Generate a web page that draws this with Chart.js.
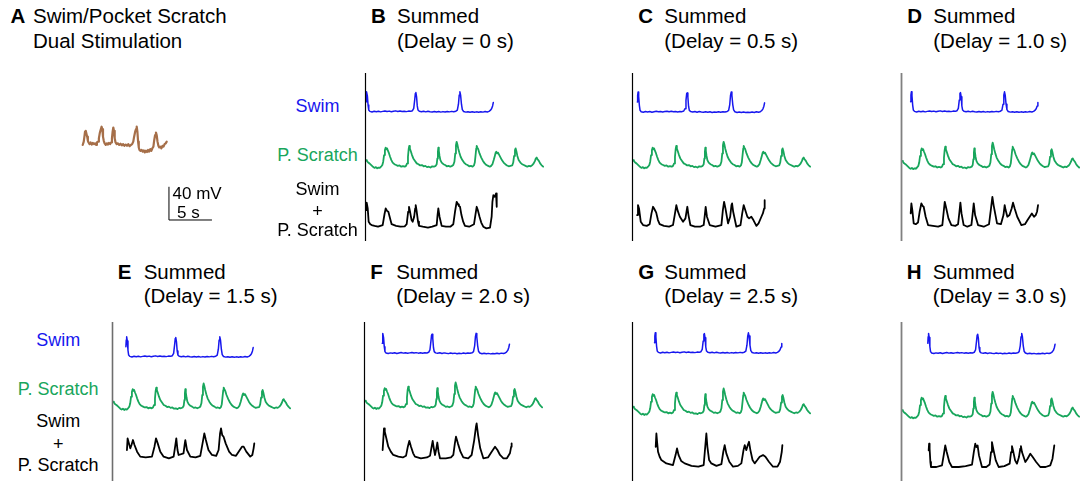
<!DOCTYPE html>
<html>
<head>
<meta charset="utf-8">
<title>Swim / Pocket Scratch summation</title>
<script src="https://cdn.jsdelivr.net/npm/chart.js@4/dist/chart.umd.min.js"></script>
<style>
  html, body { margin: 0; padding: 0; }
  body { width: 1081px; height: 482px; background: #fff; position: relative; overflow: hidden;
         font-family: "Liberation Sans", Arial, Helvetica, sans-serif; color: #000; }
  .t { position: absolute; white-space: nowrap; line-height: 1; }
  .c { transform: translateX(-50%); }
  canvas { position: absolute; }
</style>
</head>
<body>
<script>
// ---------- data: time in s, membrane potential in mV relative to rest ----------

// dual stimulation recording (panel A)
const dualTrace = [[0,-2],[0.12,2],[0.2,8],[0.27,14],[0.33,13],[0.38,15],[0.45,11],[0.52,8],[0.6,3],[0.68,1],[0.8,-1],[0.92,1],[1.05,-1.5],[1.18,0.5],[1.3,-1],[1.42,0],[1.55,-2],[1.65,1],[1.78,2],[1.88,6],[1.98,12],[2.08,16],[2.2,20],[2.28,17],[2.36,8],[2.45,3],[2.55,0],[2.68,-2],[2.8,0],[2.92,-1.5],[3.05,0.5],[3.18,-1],[3.3,1],[3.4,6],[3.48,14],[3.56,19],[3.64,15],[3.72,6],[3.82,1],[3.95,-1],[4.1,0],[4.25,-2],[4.4,-0.5],[4.55,-2.5],[4.7,-1],[4.85,-3],[5.0,-1.5],[5.15,-3],[5.3,-1],[5.45,-3.5],[5.6,-2],[5.75,-1],[5.88,2],[5.98,8],[6.1,14],[6.2,17],[6.28,20],[6.36,14],[6.44,2],[6.52,-5],[6.6,-8],[6.72,-9],[6.85,-8],[6.98,-10],[7.1,-8.5],[7.22,-11],[7.35,-9],[7.48,-10.5],[7.6,-8],[7.72,-10],[7.85,-7],[7.98,-9],[8.1,-6],[8.22,-4],[8.32,4],[8.42,10],[8.52,13],[8.6,10],[8.7,2],[8.8,-3],[8.9,-5],[9.02,-4],[9.15,-6],[9.28,-3],[9.4,-4],[9.52,-1],[9.65,0],[9.77,2]];

// swim response alone, time from swim onset
const swimTrace = [[0,12],[0.04,20],[0.09,24],[0.16,19],[0.24,8],[0.32,2],[0.45,0.4],[0.7,-0.3],[0.95,0.5],[1.2,0],[1.45,0.6],[1.7,-0.2],[1.95,0.4],[2.2,0.9],[2.45,0.2],[2.7,0.7],[2.95,0],[3.2,0.5],[3.45,1],[3.7,0.3],[3.95,0.8],[4.2,0.2],[4.45,0.6],[4.7,0.1],[4.95,0.7],[5.2,0.4],[5.4,1.2],[5.55,4],[5.66,14],[5.74,22],[5.8,23],[5.88,18],[5.96,7],[6.05,2],[6.2,0.5],[6.45,0],[6.7,0.6],[6.95,-0.2],[7.2,0.5],[7.45,0],[7.7,-0.4],[7.95,0.3],[8.2,-0.3],[8.45,0.2],[8.7,-0.5],[8.95,0.1],[9.2,-0.4],[9.45,0.3],[9.7,-0.2],[9.95,0.4],[10.2,0],[10.45,0.6],[10.62,2],[10.75,9],[10.84,20],[10.92,24],[11.0,20],[11.1,9],[11.2,2.5],[11.35,0.3],[11.6,-0.5],[11.85,0],[12.1,-0.6],[12.35,-0.1],[12.6,-0.7],[12.85,-0.2],[13.1,-0.6],[13.35,0],[13.6,-0.5],[13.85,0.2],[14.1,-0.3],[14.3,0.4],[14.45,1.5],[14.6,3.5],[14.72,7],[14.8,11]];

// pocket scratch response alone, time from scratch onset
const scratchTrace = [[0,8],[0.1,7],[0.25,5],[0.4,4],[0.55,2.5],[0.7,1],[0.85,-0.5],[1.0,-1.5],[1.15,-0.5],[1.3,-2],[1.45,-1],[1.6,-1.5],[1.75,0],[1.9,2],[2.0,6],[2.1,14],[2.2,20],[2.29,23],[2.38,21],[2.46,22],[2.56,19],[2.68,16],[2.8,12],[2.95,8],[3.1,5],[3.3,3],[3.5,2],[3.7,1],[3.9,1.5],[4.1,0],[4.3,0.8],[4.5,0],[4.65,1],[4.78,4],[4.88,12],[4.96,21],[5.03,25],[5.1,22],[5.2,19],[5.35,14],[5.5,10],[5.7,7],[5.9,4],[6.1,3],[6.3,1.5],[6.5,2],[6.7,0.5],[6.9,1],[7.1,-0.5],[7.3,0],[7.5,-1],[7.7,0.5],[7.9,0],[8.1,1],[8.22,3],[8.3,10],[8.36,18],[8.41,23],[8.47,19],[8.55,13],[8.65,8],[8.8,5],[9.0,3],[9.2,2],[9.4,0.5],[9.6,1],[9.8,0],[10.0,1],[10.15,2],[10.28,6],[10.38,16],[10.46,26],[10.54,30],[10.62,27],[10.72,22],[10.85,17],[11.0,12],[11.2,8],[11.4,5],[11.6,3],[11.8,2],[12.0,0.5],[12.2,1],[12.4,0],[12.55,1.5],[12.65,5],[12.74,14],[12.82,22],[12.87,25],[12.95,23],[13.05,21],[13.2,16],[13.4,11],[13.6,7],[13.8,4],[14.0,2],[14.2,1],[14.4,0],[14.55,1],[14.7,3],[14.85,8],[14.98,13],[15.08,17],[15.15,18],[15.25,16],[15.35,17],[15.5,14],[15.65,11],[15.8,8],[16.0,5],[16.2,3],[16.4,1.5],[16.6,0.5],[16.8,1],[17.0,1.5],[17.12,5],[17.22,13],[17.32,20],[17.4,22],[17.48,19],[17.6,13],[17.75,8],[17.95,5],[18.15,3],[18.35,2],[18.55,1],[18.75,0],[18.95,1],[19.15,0.5],[19.35,2],[19.5,4],[19.65,7],[19.75,10],[19.85,11],[19.95,9],[20.1,7],[20.25,4],[20.4,2],[20.6,0]];

// summed responses, time from scratch onset
const sumB = [[0,20],[0.08,29],[0.2,22],[0.31,6],[0.5,3],[0.66,2],[1.0,1],[1.4,0],[1.94,2],[2.15,15],[2.29,22],[2.45,19],[2.6,18],[2.8,10],[2.98,3],[3.5,1],[4.0,0],[4.5,0.5],[4.73,3],[4.9,18],[5.0,24],[5.12,18],[5.3,8],[5.43,6],[5.6,12],[5.72,22],[5.78,26],[5.9,18],[6.05,6],[6.16,1],[6.6,0],[7.2,-1],[7.7,0],[8.22,2],[8.32,14],[8.41,22],[8.55,12],[8.8,1],[9.3,0],[9.8,0],[10.15,3],[10.35,18],[10.54,30],[10.7,27],[10.8,25],[10.93,24],[11.1,14],[11.3,6],[11.51,1],[12.0,0],[12.56,3],[12.75,16],[12.87,24],[13.0,20],[13.2,12],[13.4,5],[13.64,0],[14.0,-2],[14.42,-1],[14.61,12],[14.7,30],[14.81,38],[14.95,36],[15.12,40],[15.2,24]];
const sumC = [[0.47,14],[0.58,26],[0.7,22],[0.9,6],[1.17,2],[1.6,1],[1.94,3],[2.15,16],[2.33,24],[2.5,21],[2.7,17],[2.9,8],[3.1,3],[3.6,1],[4.2,0],[4.65,2],[4.85,14],[5.04,26],[5.2,19],[5.45,12],[5.82,6],[6.1,10],[6.25,20],[6.32,24],[6.45,14],[6.67,2],[7.2,0],[7.8,0],[8.22,2],[8.35,14],[8.45,24],[8.6,12],[8.92,2],[9.6,0],[10.28,2],[10.45,20],[10.59,30],[10.75,22],[11.05,4],[11.3,12],[11.45,26],[11.52,28],[11.65,18],[12.02,0],[12.5,2],[12.7,16],[12.87,26],[13.05,20],[13.3,12],[13.5,10],[13.76,12],[14.0,8],[14.35,1],[14.6,4],[14.93,12],[15.1,16],[15.25,22],[15.31,32]];
const sumD = [[1.01,16],[1.09,28],[1.2,20],[1.36,4],[1.6,3],[1.86,5],[2.05,18],[2.25,28],[2.4,25],[2.52,24],[2.75,12],[3.03,2],[3.6,1],[4.2,0],[4.69,2],[4.85,18],[4.97,30],[5.15,22],[5.4,10],[5.74,2],[6.2,1],[6.52,3],[6.68,18],[6.79,29],[6.92,16],[7.17,2],[7.6,0],[8.07,2],[8.22,16],[8.34,28],[8.5,14],[8.84,2],[9.5,0],[10.12,3],[10.35,22],[10.51,36],[10.65,26],[11.05,4],[11.5,3],[11.8,14],[11.94,26],[12.05,20],[12.25,12],[12.5,14],[12.75,22],[12.91,29],[13.1,22],[13.4,12],[13.88,2],[14.3,3],[14.6,8],[14.85,12],[15.1,16],[15.35,12],[15.55,14],[15.7,18],[15.82,26]];
const sumE = [[1.62,10],[1.7,24],[1.8,20],[2.01,12],[2.15,16],[2.32,22],[2.5,16],[2.8,8],[3.17,2],[3.8,1],[4.53,2],[4.82,14],[5.0,24],[5.2,18],[5.5,8],[5.89,2],[6.5,0],[7.05,2],[7.25,16],[7.36,24],[7.5,10],[7.63,4],[8.2,6],[8.35,18],[8.41,22],[8.6,10],[8.99,2],[9.6,1],[10.15,3],[10.45,20],[10.62,30],[10.8,22],[11.1,10],[11.51,4],[12.0,3],[12.28,10],[12.45,30],[12.56,36],[12.7,28],[12.86,26],[13.1,18],[13.5,8],[13.84,4],[14.3,3],[14.61,8],[15.0,14],[15.19,14],[15.5,8],[15.96,2],[16.2,4],[16.35,12],[16.43,18]];
const sumF = [[2.05,10],[2.21,36],[2.3,32],[2.44,26],[2.71,14],[3.0,8],[3.29,4],[3.88,2],[4.4,1],[4.77,3],[4.98,14],[5.15,21],[5.35,14],[5.6,6],[5.81,2],[6.5,0],[7.2,1],[7.56,3],[7.75,14],[7.87,21],[8.0,12],[8.14,4],[8.3,12],[8.41,19],[8.55,8],[8.72,0],[9.4,0],[10.0,1],[10.27,4],[10.45,18],[10.58,26],[10.8,18],[11.1,8],[11.43,1],[12.0,0],[12.4,4],[12.7,22],[12.9,38],[12.98,42],[13.15,28],[13.4,12],[13.76,0],[14.3,1],[14.73,8],[15.12,14],[15.4,10],[15.7,4],[16.09,0],[16.5,0],[16.85,6],[17.0,14],[17.05,18]];
const sumG = [[2.64,24],[2.72,40],[2.8,30],[2.91,18],[3.1,12],[3.3,8],[3.88,4],[4.65,2],[4.95,14],[5.12,22],[5.3,14],[5.6,7],[6.01,4],[6.8,1],[7.6,0],[8.22,2],[8.4,24],[8.53,40],[8.65,24],[8.85,8],[9.11,4],[9.7,1],[10.28,3],[10.5,18],[10.66,26],[10.85,16],[11.2,6],[11.63,0],[12.2,1],[12.6,4],[12.85,20],[12.99,26],[13.1,22],[13.18,20],[13.35,26],[13.49,30],[13.65,20],[13.9,8],[14.15,4],[14.45,8],[14.73,12],[15.12,14],[15.4,12],[15.8,6],[16.28,0],[16.8,0],[17.1,6],[17.3,18],[17.37,26]];
const sumH = [[3.1,20],[3.15,28],[3.21,22],[3.3,6],[3.37,0],[4.0,0],[4.65,2],[4.88,16],[5.03,26],[5.2,18],[5.5,6],[5.81,0],[6.6,0],[7.4,1],[8.14,3],[8.35,18],[8.52,28],[8.65,24],[8.79,26],[8.95,14],[9.3,0],[9.8,0],[10.19,3],[10.35,18],[10.46,30],[10.65,20],[10.9,8],[11.24,0],[11.9,1],[12.52,4],[12.68,18],[12.79,25],[12.95,18],[13.15,8],[13.37,4],[13.6,12],[13.75,22],[13.83,25],[13.95,18],[14.34,6],[14.6,10],[14.92,16],[15.2,12],[15.6,6],[16.08,0],[16.7,0],[17.24,2],[17.5,10],[17.71,26]];

const panelLetters = ['B', 'C', 'D', 'E', 'F', 'G', 'H'];
const delays = [0, 0.5, 1.0, 1.5, 2.0, 2.5, 3.0];      // swim onset after scratch onset, s
const sums = [sumB, sumC, sumD, sumE, sumF, sumG, sumH];
const scaleBar = { mV: 40, s: 5 };

// ---------- layout ----------
const PX_PER_S = 8.6, PX_PER_MV = 0.83;
const LEAD = 3, PANEL_W = 190;
const BLUE = '#1717ee', GREEN = '#18a65c', BLACK = '#000000', BROWN = '#a66f49';
const HEAD = 20.5, LABEL = 18;

// per panel: axis line x, vertical extent, and resting-level y of swim / scratch / sum traces
const panelGeom = [
  { ax: 366.0, top: 73,  bottom: 241, swim: 111.7, scr: 166.7, sum: 226.7, line: '#000', lw: 1.2 },
  { ax: 633.3, top: 73,  bottom: 241, swim: 112.0, scr: 166.7, sum: 226.7, line: '#000', lw: 1.2 },
  { ax: 902.3, top: 73,  bottom: 241, swim: 111.7, scr: 167.5, sum: 226.7, line: '#808080', lw: 1.8 },
  { ax: 112.7, top: 322, bottom: 481, swim: 356.7, scr: 408.3, sum: 458.3, line: '#6e6e6e', lw: 1.6 },
  { ax: 365.2, top: 322, bottom: 481, swim: 353.3, scr: 407.3, sum: 458.3, line: '#000', lw: 1.2 },
  { ax: 633.3, top: 322, bottom: 481, swim: 352.7, scr: 413.3, sum: 466.7, line: '#000', lw: 1.2 },
  { ax: 901.7, top: 322, bottom: 481, swim: 353.3, scr: 416.7, sum: 467.0, line: '#808080', lw: 1.8 }
];
const dualGeom = { left: 70, top: 100, w: 160, h: 135, t0x: 82.7, restY: 143.3, barT: 10.03, barV: -92.4 };

// ---------- helpers ----------
function addText(txt, x, capCenterY, size, opts = {}) {
  const d = document.createElement('div');
  d.className = 't' + (opts.center ? ' c' : '');
  d.textContent = txt;
  d.style.left = x + 'px';
  d.style.top = (capCenterY - 0.49 * size) + 'px';
  d.style.fontSize = size + 'px';
  if (opts.bold) d.style.fontWeight = 'bold';
  if (opts.color) d.style.color = opts.color;
  document.body.appendChild(d);
}
function makeCanvas(left, top, w, h) {
  const c = document.createElement('canvas');
  c.width = w; c.height = h;
  Object.assign(c.style, { left: left + 'px', top: top + 'px', width: w + 'px', height: h + 'px' });
  document.body.appendChild(c);
  return c;
}
function yRange(restY, top, h) {
  const max = (restY - top) / PX_PER_MV;
  return { type: 'linear', display: false, min: max - h / PX_PER_MV, max };
}
const pts = (arr, shift = 0) => arr.map(([t, v]) => ({ x: t + shift, y: v }));

// vertical reference line at scratch onset
const onsetLine = {
  id: 'onsetLine',
  afterDatasetsDraw(chart, args, o) {
    const { ctx, chartArea, scales } = chart;
    const x = scales.x.getPixelForValue(0) - 0.5;
    ctx.save();
    ctx.strokeStyle = o.color; ctx.lineWidth = o.width;
    ctx.beginPath(); ctx.moveTo(x, chartArea.top); ctx.lineTo(x, chartArea.bottom); ctx.stroke();
    ctx.restore();
  }
};
// 40 mV / 5 s calibration bar
const calBar = {
  id: 'calBar',
  afterDatasetsDraw(chart, args, o) {
    const { ctx, scales } = chart;
    const x0 = scales.x.getPixelForValue(o.t), x1 = scales.x.getPixelForValue(o.t + o.s);
    const yb = scales.y.getPixelForValue(o.v), yt = scales.y.getPixelForValue(o.v + o.mV);
    ctx.save();
    ctx.strokeStyle = '#000'; ctx.lineWidth = 1;
    ctx.beginPath(); ctx.moveTo(x0, yt); ctx.lineTo(x0, yb); ctx.lineTo(x1, yb); ctx.stroke();
    ctx.restore();
  }
};
const baseOpts = () => ({
  responsive: false, animation: false, devicePixelRatio: 1,
  layout: { padding: 0 },
  elements: { point: { radius: 0 }, line: { borderWidth: 1.5, tension: 0, borderJoinStyle: 'round', borderCapStyle: 'round' } },
  plugins: { legend: { display: false }, tooltip: { enabled: false } },
  events: []
});

// ---------- panel A ----------
addText('A', 10.5, 16.3, HEAD, { bold: true });
addText('Swim/Pocket Scratch', 33, 16.3, HEAD);
addText('Dual Stimulation', 33, 40.8, HEAD);
{
  const g = dualGeom;
  const cv = makeCanvas(g.left, g.top, g.w, g.h);
  const xmin = (g.left - g.t0x) / PX_PER_S;
  const o = baseOpts();
  o.scales = {
    x: { type: 'linear', display: false, min: xmin, max: xmin + g.w / PX_PER_S },
    y: yRange(g.restY, g.top, g.h)
  };
  o.plugins.calBar = { t: g.barT, v: g.barV, mV: scaleBar.mV, s: scaleBar.s };
  new Chart(cv, {
    type: 'line',
    data: { datasets: [{ data: pts(dualTrace), borderColor: BROWN, borderWidth: 2.2 }] },
    options: o,
    plugins: [calBar]
  });
}
addText(scaleBar.mV + ' mV', 172.5, 193.8, 17);
addText(scaleBar.s + ' s', 177, 212.8, 17);

// ---------- trace labels ----------
[[317.5, 106.3, 155.3, 188.8, 210.8, 230], [58.2, 340, 389.3, 421, 444, 465]].forEach(([cx, a, b, c, d, e]) => {
  addText('Swim', cx, a, LABEL, { center: true, color: BLUE });
  addText('P. Scratch', cx, b, LABEL, { center: true, color: GREEN });
  addText('Swim', cx, c, LABEL, { center: true });
  addText('+', cx, d, LABEL, { center: true });
  addText('P. Scratch', cx, e, LABEL, { center: true });
});

// ---------- panels B–H ----------
panelGeom.forEach((g, i) => {
  const titleY = g.top < 100 ? 16.5 : 272;
  addText(panelLetters[i], g.ax + 5, titleY, HEAD, { bold: true });
  addText('Summed', g.ax + 31, titleY, HEAD);
  addText('(Delay = ' + (delays[i] === 0 ? '0' : delays[i].toFixed(1)) + ' s)', g.ax + 31, titleY + 24.5, HEAD);

  const h = g.bottom - g.top;
  const cv = makeCanvas(g.ax - LEAD, g.top, PANEL_W, h);
  const xmin = -LEAD / PX_PER_S;
  const o = baseOpts();
  o.scales = {
    x: { type: 'linear', display: false, min: xmin, max: xmin + PANEL_W / PX_PER_S },
    ySwim: yRange(g.swim, g.top, h),
    yScr: yRange(g.scr, g.top, h),
    ySum: yRange(g.sum, g.top, h)
  };
  o.plugins.onsetLine = { color: g.line, width: g.lw };
  new Chart(cv, {
    type: 'line',
    data: {
      datasets: [
        { data: pts(swimTrace, delays[i]), borderColor: BLUE, yAxisID: 'ySwim', borderWidth: 1.5 },
        { data: pts(scratchTrace), borderColor: GREEN, yAxisID: 'yScr', borderWidth: 1.8 },
        { data: pts(sums[i]), borderColor: BLACK, yAxisID: 'ySum', borderWidth: 1.8 }
      ]
    },
    options: o,
    plugins: [onsetLine]
  });
});
</script>
</body>
</html>
